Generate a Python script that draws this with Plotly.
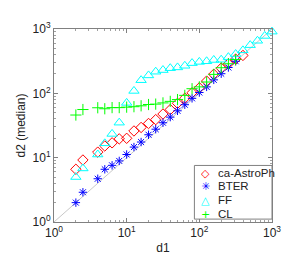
import plotly.graph_objects as go

d1 = [2, 2.5, 4, 5, 6.3, 7.9, 10, 12.6, 15.8, 20, 25.1, 31.6, 39.8, 50.1, 63.1,
      79.4, 100, 126, 158, 200, 251, 316, 398, 501, 631, 794, 1000]

astro = [6.6, 9.2, 12.2, 15.2, 17, 19.6, 20, 26, 29.5, 34, 39, 47.7, 56, 70, 84,
         102, 122, 155, 198, 246, 288, 340, 388]
bter = [2, 2.9, 4.7, 6.6, 7.6, 8.9, 11.2, 14.6, 17.5, 22.7, 27.7, 34.9, 42.7, 53.5,
        66.5, 83.6, 103, 126, 162, 202, 252, 315]
ff = [5, 6.8, 11.2, 16.7, 23.4, 35, 71, 109, 160, 190, 217, 230, 246, 253, 268, 295,
      308, 315, 330, 333, 365, 408, 466, 561, 656, 780, 910]
cl = [46, 56, 59.7, 57.6, 60, 60, 61, 62, 64, 67, 68, 71, 75, 80, 93, 118, 126, 150,
      197, 250, 288, 335]

series_names = ["ca-AstroPh", "BTER", "FF", "CL"]
series_values = [astro, bter, ff, cl]
symbols = ["diamond-open", "asterisk-open", "triangle-up-open", "cross-thin-open"]
legend_glyphs = ["◇", "✳", "△", "+"]
colors = ["#ff0000", "#0000ff", "#00ffff", "#00ff00"]
sizes = [8, 7, 9, 8]

diag = [1, 1000]
tickvals = [1, 10, 100, 1000]
ticktext = ["10<sup>0</sup>", "10<sup>1</sup>", "10<sup>2</sup>", "10<sup>3</sup>"]
minor_vals = [m * 10 ** e for e in range(3) for m in range(2, 10)]

fig = go.Figure()
fig.add_trace(go.Scatter(x=diag, y=diag, mode="lines", line=dict(color="#c8c8c8", width=1),
                         showlegend=False, hoverinfo="skip"))
for name, ys, sym, col, sz in zip(series_names, series_values, symbols, colors, sizes):
    fig.add_trace(go.Scatter(
        x=d1[:len(ys)], y=ys, mode="markers", name=name, cliponaxis=False, showlegend=False,
        marker=dict(symbol=sym, size=sz, color=col, line=dict(color=col, width=1)),
    ))

axis_common = dict(
    type="log", range=[0, 3], tickvals=tickvals, ticktext=ticktext,
    ticks="inside", ticklen=4, tickcolor="#808080",
    showline=True, linecolor="#808080", linewidth=1, mirror="ticks",
    showgrid=False, zeroline=False,
    tickfont=dict(family="Liberation Sans, Arial", size=12, color="#222222"),
    minor=dict(tickvals=minor_vals, ticks="inside", ticklen=2, tickcolor="#a0a0a0", showgrid=False),
)

# compact legend box, like the reference
fig.add_shape(type="rect", xref="paper", yref="paper", x0=0.644, x1=1.0, y0=0.015, y1=0.293,
              line=dict(color="#808080", width=1), fillcolor="white", layer="above")
row_y = [0.254, 0.184, 0.114, 0.044]
for name, glyph, col, yy in zip(series_names, legend_glyphs, colors, row_y):
    fig.add_annotation(x=0.72, y=yy, xref="paper", yref="paper", text=glyph, showarrow=False,
                       xanchor="right", yanchor="middle", borderpad=0, height=12,
                       font=dict(family="DejaVu Sans", size=11, color=col))
    fig.add_annotation(x=0.748, y=yy, xref="paper", yref="paper", text=name, showarrow=False,
                       xanchor="left", yanchor="middle", borderpad=0, height=12,
                       font=dict(family="Liberation Sans, Arial", size=11.5, color="#222222"))

fig.update_layout(
    width=299, height=257,
    margin=dict(l=39, r=35, t=20, b=31),
    paper_bgcolor="white", plot_bgcolor="white",
    font=dict(family="Liberation Sans, Arial", size=12, color="#222222"),
    xaxis=dict(axis_common, title=dict(text="d1", standoff=4, font=dict(size=12))),
    yaxis=dict(axis_common, title=dict(text="d2 (median)", standoff=4, font=dict(size=12))),
    showlegend=False,
)

fig.write_html("out.html")
